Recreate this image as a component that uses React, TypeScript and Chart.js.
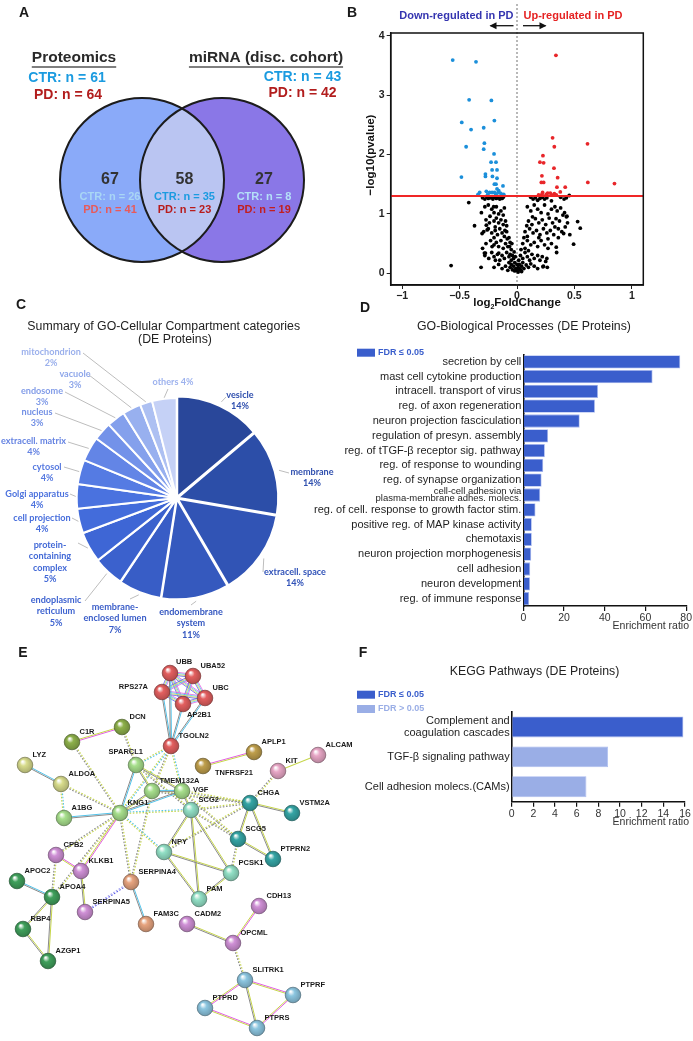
import React, { useEffect, useRef } from 'react';
import { Chart, registerables } from 'chart.js';

Chart.register(...registerables);

const FONT = '"Liberation Sans", Arial, Helvetica, sans-serif';
const PIE_FONT = 'Lato, "Open Sans", sans-serif';
Chart.defaults.font.family = FONT;

// ---------------- Panel A: Venn ----------------
const vennSets = ['Proteomics', 'miRNA (disc. cohort)'];
const vennSetCTR = [61, 43];
const vennSetPD = [64, 42];
const vennRegionTotals = [67, 58, 27];
const vennRegionCTR = [26, 35, 8];
const vennRegionPD = [41, 23, 19];

// ---------------- Panel B: volcano ----------------
const volcanoXTicks = [-1, -0.5, 0, 0.5, 1];
const volcanoYTicks = [0, 1, 2, 3, 4];
const pThreshold = 1.3;
const volcanoDown: number[][] = [
  [-0.56, 3.59], [-0.357, 3.56], [-0.417, 2.92], [-0.223, 2.91], [-0.197, 2.57], [-0.481, 2.54],
  [-0.4, 2.42], [-0.29, 2.45], [-0.284, 2.19], [-0.443, 2.13], [-0.29, 2.09], [-0.2, 2.01],
  [-0.226, 1.87], [-0.183, 1.87], [-0.217, 1.74], [-0.174, 1.74], [-0.275, 1.67], [-0.275, 1.63],
  [-0.214, 1.63], [-0.174, 1.6], [-0.484, 1.62], [-0.197, 1.5], [-0.183, 1.5], [-0.122, 1.47],
  [-0.174, 1.42], [-0.159, 1.39], [-0.325, 1.36], [-0.339, 1.33], [-0.267, 1.38], [-0.238, 1.36],
  [-0.217, 1.36], [-0.197, 1.36], [-0.255, 1.33], [-0.145, 1.35], [-0.13, 1.33], [-0.116, 1.33],
  [-0.183, 1.33], [-0.165, 1.36],
];
const volcanoUp: number[][] = [
  [0.339, 3.67], [0.31, 2.28], [0.325, 2.13], [0.614, 2.18], [0.226, 1.98], [0.2, 1.87],
  [0.232, 1.86], [0.322, 1.77], [0.217, 1.64], [0.354, 1.61], [0.212, 1.53], [0.232, 1.53],
  [0.617, 1.53], [0.849, 1.51], [0.348, 1.45], [0.42, 1.45], [0.377, 1.37], [0.223, 1.36],
  [0.267, 1.35], [0.29, 1.35], [0.217, 1.33], [0.255, 1.33], [0.325, 1.34], [0.188, 1.32],
  [0.301, 1.32], [0.342, 1.32],
];
const volcanoNS: number[][] = [
  [-0.42, 1.19], [-0.3, 1.27], [-0.28, 1.25], [-0.26, 1.28], [-0.25, 1.26], [-0.23, 1.27], [-0.21, 1.25],
  [-0.2, 1.28], [-0.18, 1.26], [-0.17, 1.28], [-0.15, 1.25], [-0.14, 1.27], [-0.13, 1.26], [-0.12, 1.28],
  [-0.31, 1.02], [-0.28, 1.12], [-0.25, 1.15], [-0.22, 1.08], [-0.203, 1.12], [-0.2, 1.02], [-0.18, 1.12],
  [-0.16, 1.0], [-0.14, 1.05], [-0.12, 0.98], [-0.11, 1.1], [-0.37, 0.8], [-0.27, 0.9], [-0.267, 0.81],
  [-0.24, 0.85], [-0.2, 0.88], [-0.18, 0.93], [-0.16, 0.85], [-0.14, 0.9], [-0.12, 0.82], [-0.1, 0.88],
  [-0.09, 0.8], [-0.29, 0.7], [-0.25, 0.75], [-0.22, 0.68], [-0.19, 0.72], [-0.17, 0.65], [-0.15, 0.75],
  [-0.13, 0.68], [-0.11, 0.62], [-0.09, 0.7], [-0.07, 0.6], [-0.2, 0.6], [-0.27, 0.5], [-0.23, 0.55],
  [-0.2, 0.48], [-0.18, 0.52], [-0.16, 0.45], [-0.14, 0.55], [-0.12, 0.42], [-0.1, 0.5], [-0.08, 0.45],
  [-0.06, 0.52], [-0.05, 0.4], [-0.3, 0.42], [-0.28, 0.3], [-0.275, 0.34], [-0.246, 0.25], [-0.22, 0.35],
  [-0.2, 0.28], [-0.17, 0.32], [-0.15, 0.22], [-0.13, 0.3], [-0.11, 0.25], [-0.09, 0.35], [-0.07, 0.28],
  [-0.05, 0.22], [-0.04, 0.3], [-0.03, 0.25], [-0.574, 0.13], [-0.313, 0.1], [-0.2, 0.1], [-0.16, 0.15],
  [-0.13, 0.08], [-0.1, 0.12], [-0.08, 0.05], [-0.06, 0.1], [-0.05, 0.15], [-0.04, 0.06], [-0.03, 0.12],
  [-0.02, 0.04], [-0.01, 0.08], [-0.02, 0.18], [-0.07, 0.18], [-0.015, 0.28], [-0.025, 0.36], [-0.06, 0.32],
  [-0.304, 0.67], [-0.284, 0.34], [-0.26, 0.73], [-0.217, 0.45], [-0.188, 0.22], [-0.159, 0.34],
  [-0.235, 0.96], [-0.19, 0.78], [-0.105, 0.72], [-0.085, 0.58], [-0.065, 0.45], [-0.045, 0.5],
  [0.12, 1.28], [0.14, 1.25], [0.16, 1.27], [0.18, 1.23], [0.2, 1.26], [0.22, 1.28], [0.24, 1.25],
  [0.26, 1.27], [0.3, 1.22], [0.38, 1.28], [0.41, 1.25], [0.43, 1.27], [0.455, 1.31], [0.09, 1.12],
  [0.12, 1.05], [0.15, 1.15], [0.18, 1.08], [0.21, 1.02], [0.24, 1.15], [0.27, 1.0], [0.3, 1.08],
  [0.33, 1.12], [0.35, 1.05], [0.38, 1.1], [0.1, 0.88], [0.13, 0.82], [0.16, 0.92], [0.19, 0.85],
  [0.22, 0.9], [0.25, 0.82], [0.28, 0.93], [0.31, 0.85], [0.34, 0.92], [0.37, 0.88], [0.4, 0.98],
  [0.43, 0.95], [0.44, 0.85], [0.528, 0.87], [0.07, 0.7], [0.09, 0.62], [0.11, 0.75], [0.14, 0.68],
  [0.17, 0.72], [0.2, 0.65], [0.23, 0.75], [0.26, 0.68], [0.29, 0.72], [0.32, 0.65], [0.36, 0.75],
  [0.39, 0.7], [0.42, 0.78], [0.551, 0.76], [0.46, 0.65], [0.05, 0.5], [0.07, 0.42], [0.09, 0.55],
  [0.12, 0.48], [0.15, 0.52], [0.18, 0.45], [0.21, 0.55], [0.24, 0.48], [0.27, 0.42], [0.3, 0.5],
  [0.493, 0.49], [0.345, 0.35], [0.03, 0.3], [0.05, 0.25], [0.07, 0.35], [0.09, 0.28], [0.11, 0.22],
  [0.13, 0.32], [0.15, 0.25], [0.18, 0.3], [0.2, 0.22], [0.22, 0.28], [0.25, 0.2], [0.0, 0.05],
  [0.01, 0.1], [0.02, 0.15], [0.03, 0.06], [0.04, 0.12], [0.05, 0.18], [0.06, 0.08], [0.08, 0.14],
  [0.1, 0.1], [0.12, 0.16], [0.15, 0.12], [0.18, 0.08], [0.264, 0.1], [0.23, 0.12], [0.01, 0.02],
  [0.0, 0.15], [0.02, 0.08], [0.015, 0.22], [0.035, 0.4], [0.06, 0.6], [0.1, 0.38], [0.04, 0.03],
  [0.414, 1.02], [0.435, 0.96], [0.406, 0.67], [0.342, 0.44], [0.26, 0.25], [0.226, 0.11],
  [0.33, 0.78], [0.27, 0.58], [0.19, 0.6], [0.135, 0.95], [0.085, 0.8], [0.36, 0.6],
];

// ---------------- Panel C: GO cellular compartment ----------------
const ccCategories = [
  'vesicle', 'membrane', 'extracell. space', 'endomembrane system', 'membrane-enclosed lumen',
  'endoplasmic reticulum', 'protein-containing complex', 'cell projection', 'Golgi apparatus',
  'cytosol', 'extracell. matrix', 'nucleus', 'endosome', 'vacuole', 'mitochondrion', 'others',
];
const ccPercent = [14, 14, 14, 11, 7, 5, 5, 4, 4, 4, 4, 3, 3, 3, 2, 4];
const ccNameLines = [
  ['vesicle'], ['membrane'], ['extracell. space'], ['endomembrane', 'system'], ['membrane-', 'enclosed lumen'],
  ['endoplasmic', 'reticulum'], ['protein-', 'containing', 'complex'], ['cell projection'], ['Golgi apparatus'],
  ['cytosol'], ['extracell. matrix'], ['nucleus'], ['endosome'], ['vacuole'], ['mitochondrion'], [],
];

// ---------------- Panel D: GO biological processes ----------------
const bpTerms: (string | string[])[] = [
  'secretion by cell', 'mast cell cytokine production', 'intracell. transport of virus',
  'reg. of axon regeneration', 'neuron projection fasciculation', 'regulation of presyn. assembly',
  'reg. of tTGF-β receptor sig. pathway', 'reg. of response to wounding', 'reg. of synapse organization',
  ['cell-cell adhesion via', 'plasma-membrane adhes. molecs.'], 'reg. of cell. response to growth factor stim.',
  'positive reg. of MAP kinase activity', 'chemotaxis', 'neuron projection morphogenesis',
  'cell adhesion', 'neuron development', 'reg. of immune response',
];
const bpEnrichment = [77.1, 63.5, 36.7, 35.2, 27.7, 12.2, 10.6, 9.8, 9.0, 8.3, 6.0, 4.2, 4.2, 3.9, 3.4, 3.3, 2.9];
const bpTicks = [0, 20, 40, 60, 80];

// ---------------- Panel F: KEGG ----------------
const keggTerms: (string | string[])[] = [
  ['Complement and', 'coagulation cascades'], 'TGF-β signaling pathway', 'Cell adhesion molecs.(CAMs)',
];
const keggEnrichment = [15.85, 8.9, 6.9];
const keggSignificant = [true, false, false];
const keggTicks = [0, 2, 4, 6, 8, 10, 12, 14, 16];

// ---------------- Panel E: network ----------------
const geneNames = [
  'UBB', 'UBA52', 'RPS27A', 'UBC', 'AP2B1', 'TGOLN2', 'DCN', 'C1R', 'LYZ', 'SPARCL1', 'APLP1',
  'TNFRSF21', 'ALCAM', 'KIT', 'ALDOA', 'TMEM132A', 'VGF', 'CHGA', 'VSTM2A', 'A1BG', 'KNG1', 'SCG2',
  'SCG5', 'PTPRN2', 'NPY', 'PCSK1', 'CPB2', 'KLKB1', 'APOC2', 'APOA4', 'SERPINA4', 'PAM', 'SERPINA5',
  'FAM3C', 'CADM2', 'CDH13', 'OPCML', 'RBP4', 'AZGP1', 'SLITRK1', 'PTPRF', 'PTPRD', 'PTPRS',
];
const geneX = [
  170, 193, 162, 205, 183, 171, 122, 72, 25, 136, 254,
  203, 318, 278, 61, 152, 182, 250, 292, 64, 120, 191,
  238, 273, 164, 231, 56, 81, 17, 52, 131, 199, 85,
  146, 187, 259, 233, 23, 48, 245, 293, 205, 257,
];
const geneY = [
  673, 676, 692, 698, 704, 746, 727, 742, 765, 765, 752,
  766, 755, 771, 784, 791, 791, 803, 813, 818, 813, 810,
  839, 859, 852, 873, 855, 871, 881, 897, 882, 899, 912,
  924, 924, 906, 943, 929, 961, 980, 995, 1008, 1028,
];
const geneCluster = [
  0, 0, 0, 0, 0, 0, 1, 1, 2, 3, 4,
  4, 5, 5, 2, 3, 3, 6, 6, 3, 3, 7,
  6, 6, 7, 7, 8, 8, 9, 9, 10, 7, 8,
  10, 8, 8, 8, 9, 9, 11, 11, 11, 11,
];
const geneEdges: string[][] = [
  ['UBB', 'UBA52', 'u'], ['UBB', 'RPS27A', 'u'], ['UBB', 'UBC', 'u'], ['UBB', 'AP2B1', 'u'],
  ['UBA52', 'RPS27A', 'u'], ['UBA52', 'UBC', 'u'], ['UBA52', 'AP2B1', 'u'], ['RPS27A', 'UBC', 'u'],
  ['RPS27A', 'AP2B1', 'u'], ['UBC', 'AP2B1', 'u'],
  ['RPS27A', 'TGOLN2', 'c'], ['UBB', 'TGOLN2', 'c'], ['AP2B1', 'TGOLN2', 'c'], ['UBC', 'TGOLN2', 'c'],
  ['DCN', 'C1R', 'p'], ['DCN', 'SPARCL1', 'dy'], ['C1R', 'KNG1', 'dy'], ['ALDOA', 'KNG1', 'dy'],
  ['TGOLN2', 'TMEM132A', 'dy'], ['SPARCL1', 'SCG2', 'dy'], ['VGF', 'CHGA', 'dy'], ['SCG2', 'CHGA', 'dy'],
  ['SCG2', 'SCG5', 'dy'], ['KNG1', 'CPB2', 'dy'], ['KNG1', 'SERPINA4', 'dy'], ['KNG1', 'APOA4', 'dy'],
  ['KIT', 'CHGA', 'dy'], ['SCG5', 'PCSK1', 'dy'], ['NPY', 'CHGA', 'dy'], ['CPB2', 'APOA4', 'dy'],
  ['OPCML', 'SLITRK1', 'dy'], ['TMEM132A', 'SERPINA4', 'dy'], ['VGF', 'SCG5', 'dy'], ['TMEM132A', 'CHGA', 'dy'],
  ['LYZ', 'ALDOA', 'c'], ['A1BG', 'KNG1', 'c'], ['SPARCL1', 'KNG1', 'c'], ['TMEM132A', 'VGF', 'c'],
  ['VGF', 'KNG1', 'c'], ['APOC2', 'APOA4', 'c'],
  ['ALDOA', 'A1BG', 'dc'], ['TGOLN2', 'SPARCL1', 'dc'], ['TGOLN2', 'KNG1', 'dc'], ['TGOLN2', 'VGF', 'dc'],
  ['KNG1', 'SCG2', 'dc'], ['KNG1', 'NPY', 'dc'],
  ['SPARCL1', 'TMEM132A', 's'], ['SPARCL1', 'VGF', 's'], ['TMEM132A', 'KNG1', 's'], ['VGF', 'SCG2', 's'],
  ['SCG2', 'NPY', 's'], ['SCG2', 'PAM', 's'], ['SCG2', 'PCSK1', 's'], ['CHGA', 'VSTM2A', 's'],
  ['CHGA', 'SCG5', 's'], ['CHGA', 'PTPRN2', 's'], ['SCG5', 'PTPRN2', 's'], ['NPY', 'PCSK1', 's'],
  ['NPY', 'PAM', 's'], ['PCSK1', 'PAM', 's'], ['APOA4', 'RBP4', 's'], ['APOA4', 'AZGP1', 's'],
  ['RBP4', 'AZGP1', 's'], ['SERPINA4', 'FAM3C', 'c'], ['CADM2', 'OPCML', 's'], ['KLKB1', 'SERPINA5', 's'],
  ['SLITRK1', 'PTPRS', 's'],
  ['TNFRSF21', 'APLP1', 'p'], ['CPB2', 'KLKB1', 'p'], ['CDH13', 'OPCML', 'p'], ['SLITRK1', 'PTPRD', 'p'],
  ['SLITRK1', 'PTPRF', 'p'], ['PTPRD', 'PTPRS', 'p'], ['PTPRF', 'PTPRS', 'p'], ['KNG1', 'KLKB1', 'p'],
  ['KIT', 'ALCAM', 'y'], ['SERPINA4', 'SERPINA5', 'db'],
];

// ---------------- styles / layout (not data) ----------------
const clusterColors = [
  '#e35f5f', '#8db04a', '#d8dc8c', '#a7df8c', '#bf9f4c', '#e8a7c6',
  '#35a5a5', '#92e0c6', '#cf90d6', '#40a05c', '#e7a47f', '#8cc6e0',
];
const edgeStyles: Record<string, any> = {
  u: { colors: ['#e25ee2', '#52c3ea', '#d4dc50', '#6060e6'], dash: [], gap: 1.1, width: 0.8 },
  c: { colors: ['#52c3ea', '#8a8a8a'], dash: [], gap: 1.2, width: 1 },
  s: { colors: ['#c6d64a', '#8a8a8a'], dash: [], gap: 1.2, width: 1 },
  p: { colors: ['#e25ee2', '#c6d64a'], dash: [], gap: 1.2, width: 1 },
  y: { colors: ['#c6d64a'], dash: [], gap: 0, width: 1.1 },
  dy: { colors: ['#c6d64a', '#8a8a8a'], dash: [1.6, 1.6], gap: 1.3, width: 1.1 },
  dc: { colors: ['#52c3ea', '#c6d64a'], dash: [1.6, 1.6], gap: 1.3, width: 1.1 },
  db: { colors: ['#5b5be8', '#a0a0f0'], dash: [1.6, 1.6], gap: 1.3, width: 1.1 },
};
const labelExceptions: Record<string, number[]> = {
  UBB: [6, -11, 0], RPS27A: [-14, -5, 1], AP2B1: [4, 11, 0], SPARCL1: [7, -13, 1], TNFRSF21: [12, 7, 0], VGF: [11, -1, 0],
};
const ccColors = [
  '#29479a', '#2c4ea8', '#3154b5', '#3559be', '#385dc6', '#3b61cd', '#3e66d5', '#436cdb',
  '#4a72df', '#557be3', '#6385e6', '#7392e9', '#84a0ec', '#98b0ef', '#adc0f2', '#c5d1f6',
];
const ccTextColors = [
  '#2f4fae', '#2f4fae', '#3052b8', '#3457c0', '#3a5dc8', '#3e63d0', '#4168d6', '#466ddc',
  '#4c72de', '#5679e0', '#6583e2', '#7390e5', '#829ce8', '#8fa7ea', '#9bb0ec', '#9db2ee',
];
const ccOffsets = [5, 5, 5, 4, 3, 2, 1, 0, 0, 0, 0, 0, 0, 0, 0, 0];
// label position and leader start, relative to pie centre
const ccLabelAt = [
  [63.3, -103], [135.3, -26], [118.3, 74], [14.3, 114], [-61.7, 109], [-120.7, 102], [-126.7, 47], [-134.7, 20],
  [-139.7, -4], [-129.7, -31], [-143.2, -57], [-139.7, -86], [-134.7, -107], [-101.7, -124], [-125.7, -146], [-3.7, -116],
];
const ccLeaderFrom = [
  [49.3, -101], [112.3, -25], [86.3, 74], [14.3, 107], [-46.7, 101], [-91.7, 103], [-98.7, 45], [-104.7, 20],
  [-106.7, -4], [-112.7, -31], [-108.7, -56], [-121.7, -85], [-111.7, -106], [-87.7, -123], [-93.7, -145], [-8.7, -109],
];
const TITLE_FONT = `12.3px ${FONT}`;

function shade(hex: string, f: number) {
  const n = parseInt(hex.slice(1), 16);
  const r = Math.round(((n >> 16) & 255) * f);
  const g = Math.round(((n >> 8) & 255) * f);
  const b = Math.round((n & 255) * f);
  return `rgb(${r},${g},${b})`;
}

function makeSphere(color: string) {
  const c = document.createElement('canvas');
  c.width = 18; c.height = 18;
  const ctx = c.getContext('2d')!;
  const g = ctx.createRadialGradient(6.5, 5.5, 0.5, 9, 9, 8.5);
  g.addColorStop(0, 'rgba(255,255,255,0.95)');
  g.addColorStop(0.35, color);
  g.addColorStop(0.85, shade(color, 0.82));
  g.addColorStop(1, shade(color, 0.62));
  ctx.beginPath(); ctx.arc(9, 9, 7.8, 0, Math.PI * 2);
  ctx.fillStyle = g; ctx.fill();
  ctx.lineWidth = 0.7; ctx.strokeStyle = shade(color, 0.55); ctx.stroke();
  return c;
}

const baseOpts = {
  responsive: false,
  animation: false as const,
  events: [] as any[],
  plugins: { legend: { display: false }, tooltip: { enabled: false } },
};

// ---------------- configs ----------------
function vennConfig(): any {
  const R = 82;
  const plugin = {
    id: 'venn',
    afterDatasetsDraw(chart: any) {
      const ctx = chart.ctx;
      const [a, b] = chart.getDatasetMeta(0).data;
      ctx.save();
      ctx.beginPath(); ctx.arc(a.x, a.y, R, 0, Math.PI * 2); ctx.clip();
      ctx.beginPath(); ctx.arc(b.x, b.y, R, 0, Math.PI * 2);
      ctx.fillStyle = '#bac5f2'; ctx.fill();
      ctx.restore();
      ctx.save();
      ctx.lineWidth = 2; ctx.strokeStyle = '#1c1c1c';
      [a, b].forEach((p: any) => { ctx.beginPath(); ctx.arc(p.x, p.y, R, 0, Math.PI * 2); ctx.stroke(); });
      ctx.textAlign = 'center'; ctx.textBaseline = 'middle';
      const head = (t: string, x: number, y: number) => {
        ctx.font = `bold 15.5px ${FONT}`; ctx.fillStyle = '#2a2a2a';
        ctx.fillText(t, x, y);
        const w = ctx.measureText(t).width;
        ctx.strokeStyle = '#555'; ctx.lineWidth = 1.3;
        ctx.beginPath(); ctx.moveTo(x - w / 2, y + 9); ctx.lineTo(x + w / 2, y + 9); ctx.stroke();
      };
      head(vennSets[0], a.x - 68, 58);
      head(vennSets[1], b.x + 44, 58);
      ctx.font = `bold 14px ${FONT}`;
      ctx.fillStyle = '#1b9be0'; ctx.fillText(`CTR: n = ${vennSetCTR[0]}`, a.x - 75, 78);
      ctx.fillStyle = '#b21d1d'; ctx.fillText(`PD: n = ${vennSetPD[0]}`, a.x - 74, 95);
      ctx.fillStyle = '#1b9be0'; ctx.fillText(`CTR: n = ${vennSetCTR[1]}`, b.x + 80.5, 77);
      ctx.fillStyle = '#b21d1d'; ctx.fillText(`PD: n = ${vennSetPD[1]}`, b.x + 80.5, 93);
      const xs = [a.x - 32, (a.x + b.x) / 2 + 2.5, b.x + 42];
      const ctrCol = ['#a9d6f5', '#1b9be0', '#b4e0f8'];
      const pdCol = ['#e85a5a', '#b81c1c', '#c21f1f'];
      xs.forEach((x, i) => {
        ctx.font = `bold 16px ${FONT}`; ctx.fillStyle = '#333';
        ctx.fillText(String(vennRegionTotals[i]), x, a.y);
        ctx.font = `bold 11px ${FONT}`;
        ctx.fillStyle = ctrCol[i]; ctx.fillText(`CTR: n = ${vennRegionCTR[i]}`, x, a.y + 17);
        ctx.fillStyle = pdCol[i]; ctx.fillText(`PD: n = ${vennRegionPD[i]}`, x, a.y + 30);
      });
      ctx.restore();
    },
  };
  return {
    type: 'bubble',
    data: {
      datasets: [{
        data: vennSets.map((_, i) => ({ x: i, y: 0, r: R })),
        backgroundColor: ['#8aaaf9', '#8a77e7'],
        borderWidth: 0,
        clip: false,
      }],
    },
    options: {
      ...baseOpts,
      layout: { padding: 0, autoPadding: false },
      scales: {
        x: { display: false, min: -1.775, max: 2.5375 },
        y: { display: false, min: -0.4, max: 0.6 },
      },
    },
    plugins: [plugin],
  };
}

function volcanoConfig(): any {
  const plugin = {
    id: 'volcano',
    beforeDatasetsDraw(chart: any) {
      const { ctx, chartArea: a, scales: { x } } = chart;
      const x0 = x.getPixelForValue(0);
      ctx.save();
      ctx.strokeStyle = '#8a8a8a'; ctx.lineWidth = 1.2; ctx.setLineDash([2, 2]);
      ctx.beginPath(); ctx.moveTo(x0, 4); ctx.lineTo(x0, a.bottom); ctx.stroke();
      ctx.restore();
    },
    afterDatasetsDraw(chart: any) {
      const { ctx, chartArea: a, scales: { y } } = chart;
      const yT = y.getPixelForValue(pThreshold);
      ctx.save();
      ctx.strokeStyle = '#f02626'; ctx.lineWidth = 2;
      ctx.beginPath(); ctx.moveTo(a.left, yT); ctx.lineTo(a.right, yT); ctx.stroke();
      ctx.strokeStyle = '#111'; ctx.lineWidth = 1.5;
      ctx.strokeRect(a.left, a.top, a.right - a.left, a.bottom - a.top);
      ctx.restore();
    },
    afterDraw(chart: any) {
      const { ctx, chartArea: a, scales: { x } } = chart;
      const x0 = x.getPixelForValue(0);
      ctx.save();
      ctx.textBaseline = 'middle';
      ctx.font = `bold 11px ${FONT}`;
      ctx.fillStyle = '#3535b0'; ctx.textAlign = 'right';
      ctx.fillText('Down-regulated in PD', x0 - 3.5, 15.7);
      ctx.fillStyle = '#e52222'; ctx.textAlign = 'left';
      ctx.fillText('Up-regulated in PD', x0 + 6.5, 15.7);
      const arrow = (x1: number, x2: number, yy: number) => {
        ctx.strokeStyle = '#111'; ctx.fillStyle = '#111'; ctx.lineWidth = 1.3;
        ctx.beginPath(); ctx.moveTo(x1, yy); ctx.lineTo(x2, yy); ctx.stroke();
        const d = Math.sign(x2 - x1);
        ctx.beginPath(); ctx.moveTo(x2 + d * 1, yy); ctx.lineTo(x2 - d * 6, yy - 3.5); ctx.lineTo(x2 - d * 6, yy + 3.5); ctx.closePath(); ctx.fill();
      };
      arrow(x0 - 3.5, x0 - 26.5, 25.7);
      arrow(x0 + 6, x0 + 28.5, 25.7);
      ctx.fillStyle = '#111'; ctx.textAlign = 'center'; ctx.font = `bold 11.5px ${FONT}`;
      ctx.save();
      ctx.translate(26, (a.top + a.bottom) / 2 - 4);
      ctx.rotate(-Math.PI / 2);
      ctx.fillText('−log10(pvalue)', 0, 0);
      ctx.restore();
      const f1 = `bold 11.5px ${FONT}`, f2 = `bold 7px ${FONT}`;
      ctx.font = f1; const w1 = ctx.measureText('log').width; const w3 = ctx.measureText('FoldChange').width;
      ctx.font = f2; const w2 = ctx.measureText('2').width;
      let sx = x0 - (w1 + w2 + w3) / 2; const ty = 303;
      ctx.textAlign = 'left';
      ctx.font = f1; ctx.fillText('log', sx, ty); sx += w1;
      ctx.font = f2; ctx.fillText('2', sx, ty + 4); sx += w2;
      ctx.font = f1; ctx.fillText('FoldChange', sx, ty);
      ctx.restore();
    },
  };
  const pts = (arr: number[][]) => arr.map(([x, y]) => ({ x, y }));
  const fmt = (v: number) => (v < 0 ? '−' + Math.abs(v) : String(v));
  return {
    type: 'scatter',
    data: {
      datasets: [
        { data: pts(volcanoNS), backgroundColor: '#000', pointRadius: 1.9, borderWidth: 0 },
        { data: pts(volcanoDown), backgroundColor: '#1b8fda', pointRadius: 1.9, borderWidth: 0 },
        { data: pts(volcanoUp), backgroundColor: '#e8262a', pointRadius: 1.9, borderWidth: 0 },
      ],
    },
    options: {
      ...baseOpts,
      layout: { padding: { left: 0, right: 49.7, top: 33, bottom: 0 }, autoPadding: false },
      scales: {
        x: {
          type: 'linear', min: -1.1, max: 1.1,
          afterBuildTicks: (s: any) => { s.ticks = volcanoXTicks.map((v) => ({ value: v })); },
          afterFit: (s: any) => { s.height = 35; },
          ticks: { callback: (v: any) => fmt(v), font: { weight: 'bold', size: 10.5 }, color: '#222', padding: 1, maxRotation: 0 },
          grid: { display: true, drawOnChartArea: false, drawTicks: true, tickLength: 4, color: '#222' },
          border: { display: true, color: '#111', width: 1.5 },
        },
        y: {
          type: 'linear', min: -0.197, max: 4.045,
          afterBuildTicks: (s: any) => { s.ticks = volcanoYTicks.map((v) => ({ value: v })); },
          afterFit: (s: any) => { s.width = 45.7; },
          ticks: { font: { weight: 'bold', size: 10.5 }, color: '#222', padding: 2 },
          grid: { display: true, drawOnChartArea: false, drawTicks: true, tickLength: 4, color: '#222' },
          border: { display: true, color: '#111', width: 1.5 },
        },
      },
    },
    plugins: [plugin],
  };
}

function pieConfig(): any {
  const plugin = {
    id: 'pieLabels',
    afterDatasetsDraw(chart: any) {
      const ctx = chart.ctx;
      const meta = chart.getDatasetMeta(0);
      ctx.save();
      meta.data.forEach((arc: any, i: number) => {
        const p = arc.getProps(['x', 'y', 'startAngle', 'endAngle', 'outerRadius'], true);
        const off = ccOffsets[i];
        const mid = (p.startAngle + p.endAngle) / 2;
        const ex = p.x + Math.cos(mid) * (p.outerRadius + off + 1);
        const ey = p.y + Math.sin(mid) * (p.outerRadius + off + 1);
        const [fx, fy] = ccLeaderFrom[i];
        ctx.strokeStyle = '#bdbdbd'; ctx.lineWidth = 1;
        ctx.beginPath(); ctx.moveTo(p.x + fx, p.y + fy); ctx.lineTo(ex, ey); ctx.stroke();
        const lines = ccNameLines[i].length
          ? [...ccNameLines[i], `${ccPercent[i]}%`]
          : [`${ccCategories[i]} ${ccPercent[i]}%`];
        const [tx, ty] = ccLabelAt[i];
        ctx.font = `bold 9.1px ${PIE_FONT}`;
        ctx.fillStyle = ccTextColors[i];
        ctx.textAlign = 'center'; ctx.textBaseline = 'middle';
        lines.forEach((t, k) => ctx.fillText(t, p.x + tx, p.y + ty + k * 11.3));
      });
      ctx.restore();
    },
    afterDraw(chart: any) {
      const ctx = chart.ctx;
      ctx.save();
      ctx.font = TITLE_FONT; ctx.fillStyle = '#222';
      ctx.textAlign = 'center'; ctx.textBaseline = 'middle';
      ctx.fillText('Summary of GO-Cellular Compartment categories', 163.7, 27);
      ctx.fillText('(DE Proteins)', 175, 39.5);
      ctx.restore();
    },
  };
  return {
    type: 'pie',
    data: {
      labels: ccCategories,
      datasets: [{
        data: ccPercent, backgroundColor: ccColors, borderColor: '#ffffff', borderWidth: 2,
        offset: ccOffsets, radius: 100,
      }],
    },
    options: {
      ...baseOpts,
      layout: { padding: { left: 60, right: 51.6, top: 70, bottom: 19 }, autoPadding: false },
    },
    plugins: [plugin],
  };
}

function hbarConfig(opts: {
  labels: any[]; values: number[]; colors: string[]; ticks: number[]; max: number;
  padTop: number; padRight: number; yWidth: number; xHeight: number; barPct: number;
  title: string; titleX: number; titleY: number; legend: { color: string; text: string; y: number }[];
  ratioY: number; shift: number;
}): any {
  const s0 = opts.shift;
  const plugin = {
    id: 'hbarDecor',
    afterDraw(chart: any) {
      const ctx = chart.ctx;
      ctx.save();
      ctx.textBaseline = 'middle';
      ctx.font = TITLE_FONT; ctx.fillStyle = '#222'; ctx.textAlign = 'center';
      ctx.fillText(opts.title, opts.titleX + s0, opts.titleY);
      opts.legend.forEach((l) => {
        ctx.fillStyle = l.color; ctx.fillRect(27 + s0, l.y - 4, 18, 8);
        ctx.font = `bold 9px ${FONT}`; ctx.textAlign = 'left';
        ctx.fillText(l.text, 48 + s0, l.y);
      });
      ctx.font = `10.5px ${FONT}`; ctx.fillStyle = '#333'; ctx.textAlign = 'right';
      ctx.fillText('Enrichment ratio', 359 + s0, opts.ratioY);
      ctx.restore();
    },
  };
  return {
    type: 'bar',
    data: {
      labels: opts.labels,
      datasets: [{
        data: opts.values, backgroundColor: opts.colors, borderColor: '#a9b9ef', borderWidth: 0.8,
        barPercentage: opts.barPct, categoryPercentage: 1,
      }],
    },
    options: {
      ...baseOpts,
      indexAxis: 'y',
      layout: { padding: { left: 0, right: opts.padRight, top: opts.padTop, bottom: 0 }, autoPadding: false },
      scales: {
        x: {
          type: 'linear', min: 0, max: opts.max,
          afterBuildTicks: (s: any) => { s.ticks = opts.ticks.map((v) => ({ value: v })); },
          afterFit: (s: any) => { s.height = opts.xHeight; },
          ticks: { font: { size: 10.5 }, color: '#333', padding: 1, maxRotation: 0 },
          grid: { display: true, drawOnChartArea: false, drawTicks: true, tickLength: 5, color: '#111', lineWidth: 1.2 },
          border: { display: true, color: '#111', width: 1.6 },
        },
        y: {
          type: 'category',
          afterFit: (s: any) => { s.width = opts.yWidth + s0; },
          ticks: {
            autoSkip: false, color: '#1e1e1e', padding: 2,
            font: (c: any) => (Array.isArray(opts.labels[c.index]) && opts.labels.length > 5
              ? { size: 9.5, lineHeight: 0.78 }
              : { size: 11, lineHeight: 1.05 }),
          },
          grid: { display: false, drawTicks: false },
          border: { display: true, color: '#111', width: 1.6 },
        },
      },
    },
    plugins: [plugin],
  };
}

function bpConfig(): any {
  return hbarConfig({
    labels: bpTerms, values: bpEnrichment, colors: bpEnrichment.map(() => '#3a5ecc'), ticks: bpTicks, max: 80,
    padTop: 44.4, padRight: 6, yWidth: 193.3, xHeight: 34, barPct: 0.9,
    title: 'GO-Biological Processes (DE Proteins)', titleX: 194, titleY: 16.5,
    legend: [{ color: '#3a5ecc', text: 'FDR ≤ 0.05', y: 42.7 }], ratioY: 316.5, shift: 40,
  });
}

function keggConfig(): any {
  return hbarConfig({
    labels: keggTerms, values: keggEnrichment,
    colors: keggSignificant.map((s) => (s ? '#3a5ecc' : '#9aaee6')), ticks: keggTicks, max: 16,
    padTop: 67, padRight: 8, yWidth: 181.7, xHeight: 43.3, barPct: 0.7,
    title: 'KEGG Pathways (DE Proteins)', titleX: 204.5, titleY: 26.7,
    legend: [{ color: '#3a5ecc', text: 'FDR ≤ 0.05', y: 49.7 }, { color: '#9aaee6', text: 'FDR > 0.05', y: 64 }],
    ratioY: 176.7, shift: 0,
  });
}

function networkConfig(): any {
  const spheres = clusterColors.map(makeSphere);
  const idx: Record<string, number> = {};
  geneNames.forEach((n, i) => { idx[n] = i; });
  const plugin = {
    id: 'network',
    beforeDatasetsDraw(chart: any) {
      const { ctx, scales: { x, y } } = chart;
      ctx.save();
      geneEdges.forEach(([a, b, t]) => {
        const st = edgeStyles[t];
        const x1 = x.getPixelForValue(geneX[idx[a]]), y1 = y.getPixelForValue(geneY[idx[a]]);
        const x2 = x.getPixelForValue(geneX[idx[b]]), y2 = y.getPixelForValue(geneY[idx[b]]);
        const len = Math.hypot(x2 - x1, y2 - y1) || 1;
        const nx = -(y2 - y1) / len, ny = (x2 - x1) / len;
        const n = st.colors.length;
        st.colors.forEach((c: string, k: number) => {
          const o = (k - (n - 1) / 2) * st.gap;
          ctx.strokeStyle = c; ctx.lineWidth = st.width; ctx.setLineDash(st.dash);
          ctx.beginPath(); ctx.moveTo(x1 + nx * o, y1 + ny * o); ctx.lineTo(x2 + nx * o, y2 + ny * o); ctx.stroke();
        });
      });
      ctx.restore();
    },
    afterDatasetsDraw(chart: any) {
      const { ctx, scales: { x, y } } = chart;
      ctx.save();
      ctx.font = `bold 7.5px ${FONT}`; ctx.fillStyle = '#1a1a1a'; ctx.textBaseline = 'middle';
      geneNames.forEach((n, i) => {
        const ex = labelExceptions[n] || [7.5, -10, 0];
        ctx.textAlign = ex[2] ? 'right' : 'left';
        ctx.fillText(n, x.getPixelForValue(geneX[i]) + ex[0], y.getPixelForValue(geneY[i]) + ex[1]);
      });
      ctx.restore();
    },
  };
  return {
    type: 'scatter',
    data: {
      datasets: [{
        data: geneNames.map((_, i) => ({ x: geneX[i], y: geneY[i] })),
        pointStyle: (c: any) => spheres[geneCluster[c.dataIndex]],
        pointRadius: 8,
        clip: false,
      }],
    },
    options: {
      ...baseOpts,
      layout: { padding: 0, autoPadding: false },
      scales: {
        x: { type: 'linear', display: false, min: 0, max: 360 },
        y: { type: 'linear', display: false, min: 650, max: 1041, reverse: true },
      },
    },
    plugins: [plugin],
  };
}

function ChartCanvas(props: { left: number; top: number; width: number; height: number; make: () => any }) {
  const ref = useRef<HTMLCanvasElement>(null);
  useEffect(() => {
    const chart = new Chart(ref.current as HTMLCanvasElement, props.make());
    return () => chart.destroy();
  }, []);
  return (
    <canvas
      ref={ref}
      width={props.width}
      height={props.height}
      style={{ position: 'absolute', left: props.left, top: props.top, width: props.width, height: props.height }}
    />
  );
}

const panelLetters = [
  ['A', 24, 12], ['B', 352, 12], ['C', 21, 304], ['D', 365, 307], ['E', 23, 652], ['F', 363, 652],
];

export default function App() {
  return (
    <div style={{ position: 'absolute', left: 0, top: 0, width: 693, height: 1041, background: '#fff', overflow: 'hidden' }}>
      <ChartCanvas left={0} top={0} width={345} height={300} make={vennConfig} />
      <ChartCanvas left={345} top={0} width={348} height={320} make={volcanoConfig} />
      <ChartCanvas left={0} top={300} width={345} height={345} make={pieConfig} />
      <ChartCanvas left={290} top={310} width={403} height={330} make={bpConfig} />
      <ChartCanvas left={0} top={650} width={360} height={391} make={networkConfig} />
      <ChartCanvas left={330} top={645} width={363} height={200} make={keggConfig} />
      {panelLetters.map(([t, x, y]) => (
        <div
          key={t as string}
          style={{
            position: 'absolute', left: (x as number) - 6, top: (y as number) - 9, width: 12, textAlign: 'center',
            font: `bold 14px ${FONT}`, color: '#1a1a1a', lineHeight: '18px',
          }}
        >
          {t}
        </div>
      ))}
    </div>
  );
}
